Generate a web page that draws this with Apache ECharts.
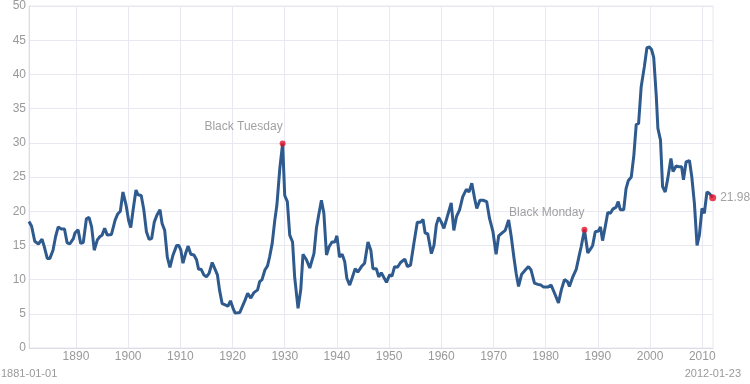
<!DOCTYPE html>
<html>
<head>
<meta charset="utf-8">
<script src="https://cdn.jsdelivr.net/npm/echarts@6/dist/echarts.min.js"></script>
<style>html,body{margin:0;padding:0;background:#fff;}#c{width:750px;height:384px;}</style>
</head>
<body>
<div id="c"></div>
<script>
// Time (fractional year) and Shiller CAPE values
const years = [
1881.0,1881.5,1882.1,1882.8,1883.5,1883.9,1884.5,1885.0,1885.6,1886.1,1886.6,1887.2,1887.8,1888.3,1888.8,1889.5,1889.8,1890.4,1890.9,1891.4,
1892.0,1892.5,1893.0,1893.5,1894.1,1894.6,1895.0,1895.5,1896.0,1896.8,1897.5,1898.0,1898.5,1899.0,1899.6,1900.1,1900.5,1900.95,1901.5,1901.9,
1902.5,1903.0,1903.5,1904.0,1904.5,1905.0,1905.5,1906.1,1906.5,1907.0,1907.5,1908.0,1908.6,1909.3,1909.7,1910.1,1910.5,1911.0,1911.5,1912.0,
1912.6,1913.1,1913.5,1914.0,1914.5,1915.0,1915.5,1916.1,1916.6,1917.1,1917.5,1918.0,1918.6,1919.1,1919.6,1920.1,1920.5,1921.4,1921.7,1922.4,
1922.9,1923.5,1924.1,1924.8,1925.2,1925.65,1926.2,1926.7,1927.1,1927.6,1928.1,1928.5,1929.05,1929.6,1930.0,1930.5,1930.96,1931.5,1931.9,1932.55,
1933.07,1933.5,1934.16,1934.8,1935.1,1935.6,1936.07,1936.5,1937.03,1937.5,1938.0,1938.5,1939.06,1939.6,1940.0,1940.5,1941.0,1941.5,1941.9,1942.45,
1942.9,1943.5,1944.0,1944.7,1945.3,1945.95,1946.5,1946.9,1947.55,1948.0,1948.5,1949.5,1950.1,1950.55,1951.05,1951.6,1952.2,1953.0,1953.5,1954.1,
1954.75,1955.4,1956.05,1956.5,1956.9,1957.4,1958.1,1958.6,1959.05,1959.5,1960.0,1960.5,1961.15,1961.9,1962.4,1962.9,1963.5,1964.1,1964.8,1965.3,
1965.85,1966.4,1966.8,1967.4,1968.0,1968.7,1969.25,1969.9,1970.5,1971.0,1971.6,1972.25,1972.9,1973.4,1973.9,1974.35,1974.8,1975.4,1976.1,1976.7,
1977.2,1977.85,1978.5,1979.1,1979.6,1980.4,1981.05,1981.7,1982.45,1983.0,1983.6,1984.2,1984.55,1985.2,1985.85,1986.5,1986.8,1987.43,1988.07,1988.7,
1989.0,1989.5,1990.1,1990.5,1990.9,1991.4,1991.9,1992.4,1992.85,1993.5,1993.9,1994.3,1994.95,1995.4,1995.85,1996.4,1996.9,1997.35,1997.8,1998.3,
1998.9,1999.4,1999.9,2000.3,2000.7,2001.2,2001.5,2002.0,2002.4,2002.9,2003.4,2004.0,2004.4,2005.0,2005.5,2006.05,2006.4,2006.9,2007.55,2008.0,
2008.5,2009.0,2009.45,2009.95,2010.4,2010.9,2011.35,2012.0
];
const cape = [
18.5,17.8,15.6,15.2,15.9,14.9,13.1,13.1,14.3,16.3,17.7,17.4,17.4,15.4,15.2,16.0,16.8,17.3,15.3,15.4,
18.9,19.1,17.7,14.3,15.8,16.3,16.5,17.5,16.5,16.6,18.7,19.6,20.0,22.8,20.9,18.6,17.6,20.2,23.1,22.4,
22.3,20.2,17.0,15.9,16.0,18.4,19.4,20.2,18.2,17.2,13.3,11.8,13.6,15.0,15.0,14.3,12.4,13.8,14.9,13.7,
13.6,12.9,11.5,11.5,10.7,10.4,10.9,12.5,11.6,10.7,8.5,6.5,6.3,6.1,6.9,5.8,5.1,5.2,5.3,7.0,
8.0,7.3,8.1,8.5,9.7,10.0,11.4,12.0,13.3,15.3,18.7,20.9,26.2,29.9,22.3,21.4,16.5,15.5,10.4,5.8,
8.5,13.7,12.9,11.7,11.5,13.8,17.5,19.4,21.6,19.7,13.6,14.8,15.5,15.5,16.4,13.3,13.7,12.6,10.2,9.2,
10.2,11.6,11.1,11.9,12.4,15.5,14.3,11.6,11.6,10.4,11.0,9.6,10.7,10.5,11.9,11.8,12.5,13.0,11.9,12.1,
15.3,18.4,18.4,18.8,16.8,16.7,13.8,15.0,18.0,19.1,18.4,17.5,19.2,21.2,17.2,19.2,20.2,22.1,23.2,22.8,
24.1,21.8,20.4,21.6,21.6,21.4,18.9,17.0,13.7,16.4,16.8,17.2,18.7,16.3,13.3,10.9,9.0,10.8,11.4,11.9,
11.4,9.5,9.3,9.2,8.9,8.9,9.2,8.0,6.6,8.5,10.0,9.7,9.0,10.4,11.5,13.8,14.8,17.3,13.9,14.6,
15.0,17.0,17.1,17.7,15.7,17.7,19.8,19.7,20.3,20.6,21.4,20.2,20.2,23.3,24.5,25.0,28.2,32.7,32.8,38.2,
41.1,43.9,44.0,43.6,42.5,36.7,32.1,30.4,23.6,22.8,24.8,27.7,25.8,26.6,26.5,26.5,24.6,27.2,27.4,25.0,
21.1,15.0,16.5,20.4,19.7,22.8,22.6,21.98
];
const xTicks = [1890,1900,1910,1920,1930,1940,1950,1960,1970,1980,1990,2000,2010];
const eventNames = ['Black Tuesday','Black Monday'];
const eventYears = [1929.6,1987.43];
const eventValues = [29.9,17.3];
const lastYear = 2012.0;
const lastValue = 21.98;
const rangeStart = '1881-01-01';
const rangeEnd = '2012-01-23';

const lineData = years.map((y,i)=>[y,cape[i]]);
const eventData = eventYears.map((y,i)=>({value:[y,eventValues[i]],name:eventNames[i]}));

const chart = echarts.init(document.getElementById('c'));
const gray = '#999';
const gridColor = '#e8e8f0';
const ff = 'Liberation Sans, Arial, sans-serif';
chart.setOption({
  animation:false,
  grid:{left:29,right:37,top:6,bottom:36,show:true,borderColor:gridColor,borderWidth:1,containLabel:false},
  xAxis:{
    type:'value', min:1881, max:2012.06,
    axisLine:{show:true,lineStyle:{color:'#dcdce6'}},
    axisTick:{show:false,customValues:xTicks},
    axisLabel:{customValues:xTicks,formatter:v=>String(Math.round(v)),color:gray,fontSize:12,margin:3,fontFamily:ff},
    splitLine:{show:true,lineStyle:{color:gridColor}}
  },
  yAxis:{
    type:'value', min:0, max:50, interval:5,
    axisLine:{show:true,lineStyle:{color:'#dcdce6'}},
    axisTick:{show:false},
    axisLabel:{color:gray,fontSize:12,margin:3,fontFamily:ff},
    splitLine:{show:true,lineStyle:{color:gridColor}}
  },
  series:[
    {type:'line',data:lineData,showSymbol:false,symbol:'none',lineStyle:{color:'#2e5a8e',width:3},z:2},
    {type:'scatter',data:eventData,symbol:'circle',symbolSize:6,itemStyle:{color:'#e5102b'},z:3,
      label:{show:true,position:'top',align:'right',distance:8,formatter:p=>p.name,color:'#8a8a8a',fontSize:12,fontFamily:ff}},
    {type:'scatter',data:[[lastYear,lastValue]],symbol:'circle',symbolSize:7,itemStyle:{color:'#e5102b'},z:3,
      label:{show:true,position:'right',distance:4,formatter:p=>p.value[1].toFixed(2),color:'#8a8a8a',fontSize:12,fontFamily:ff}}
  ],
  graphic:[
    {type:'text',left:1,top:368,style:{text:rangeStart,fill:gray,fontSize:11,fontFamily:ff}},
    {type:'text',right:9,top:368,style:{text:rangeEnd,fill:gray,fontSize:11,fontFamily:ff}}
  ]
});
</script>
</body>
</html>
